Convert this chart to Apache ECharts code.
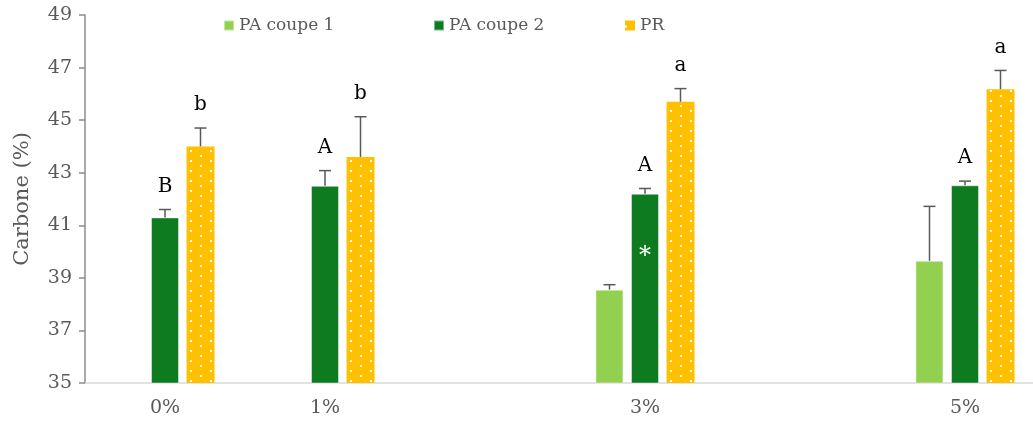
<!DOCTYPE html>
<html>
<head>
<meta charset="utf-8">
<script src="https://cdn.jsdelivr.net/npm/echarts@6/dist/echarts.min.js"></script>
<style>
  html, body { margin: 0; padding: 0; background: #fff; }
  #chart { width: 1033px; height: 425px; }
</style>
</head>
<body>
<div id="chart"></div>
<script>
// categories (2% and 4% are empty slots on the axis)
var categories = ['0%', '1%', '', '3%', '', '5%'];
var seriesNames = ['PA coupe 1', 'PA coupe 2', 'PR'];

var pa1 = [null, null, null, 38.55, null, 39.65];
var pa2 = [41.3, 42.5, null, 42.2, null, 42.52];
var pr  = [44.0, 43.6, null, 45.7, null, 46.18];

// upper error bars
var pa1Err = [null, null, null, 0.19, null, 2.07];
var pa2Err = [0.3, 0.58, null, 0.2, null, 0.16];
var prErr  = [0.7, 1.53, null, 0.5, null, 0.71];

// significance letters
var pa2Letters = ['B', 'A', '', 'A', '', 'A'];
var prLetters  = ['b', 'b', '', 'a', '', 'a'];

var FONT = 'DejaVu Serif';
var GREY = '#595959';
var BAR_W = 28;
var BAR_STEP = 35.5;

var chart = echarts.init(document.getElementById('chart'));

var errData = [];
var errLetters = [];
[[pa1, pa1Err, null], [pa2, pa2Err, pa2Letters], [pr, prErr, prLetters]].forEach(function (s, si) {
    s[0].forEach(function (v, ci) {
        if (v == null) return;
        errData.push([ci, v, s[1][ci], si]);
        errLetters.push(s[2] ? s[2][ci] : '');
    });
});

function renderErr(params, api) {
    var ci = api.value(0), v = api.value(1), e = api.value(2), si = api.value(3);
    var base = api.coord([ci, v]);
    var top = api.coord([ci, v + e]);
    var x = base[0] + (si - 1) * BAR_STEP;
    var children = [
        { type: 'line', shape: { x1: x, y1: base[1], x2: x, y2: top[1] },
          style: { stroke: GREY, lineWidth: 1.5 } },
        { type: 'line', shape: { x1: x - 6, y1: top[1], x2: x + 6, y2: top[1] },
          style: { stroke: GREY, lineWidth: 1.5 } }
    ];
    var letter = errLetters[params.dataIndex];
    if (letter) {
        children.push({ type: 'text', x: x, y: top[1] - 13,
            style: { text: letter, fill: '#000', font: '20px "' + FONT + '"',
                     align: 'center', verticalAlign: 'bottom' } });
    }
    return { type: 'group', children: children };
}

var pa2Data = pa2.map(function (v, i) {
    if (i === 3) {
        return { value: v, label: { show: true, formatter: '*', position: ['50%', '33%'],
            align: 'center', verticalAlign: 'middle', color: '#fff', fontSize: 24,
            fontFamily: FONT } };
    }
    return v;
});

var legendLefts = [218, 428, 620];

var option = {
    animation: false,
    textStyle: { fontFamily: FONT },
    legend: seriesNames.map(function (n, i) {
        return {
            data: [n], left: legendLefts[i], top: 12,
            itemWidth: 10, itemHeight: 10, itemGap: 6,
            icon: 'rect',
            textStyle: { color: GREY, fontSize: 17, fontFamily: FONT }
        };
    }),
    grid: { left: 85, top: 15, right: -12, bottom: 42, containLabel: false, outerBoundsMode: 'none' },
    xAxis: {
        type: 'category',
        data: categories,
        axisLine: { lineStyle: { color: '#D9D9D9', width: 1.5 } },
        axisTick: { show: false },
        axisLabel: { color: GREY, fontSize: 19, fontFamily: FONT, margin: 16 }
    },
    yAxis: {
        type: 'value',
        min: 35, max: 49, interval: 2,
        name: 'Carbone (%)',
        nameLocation: 'middle',
        nameGap: 52,
        nameTextStyle: { color: GREY, fontSize: 21, fontFamily: FONT },
        axisLine: { show: true, lineStyle: { color: '#8C8C8C', width: 1.5 } },
        axisTick: { show: true, length: 6, lineStyle: { color: '#8C8C8C', width: 1.5 } },
        axisLabel: { color: GREY, fontSize: 19, fontFamily: FONT, margin: 13 },
        splitLine: { show: false }
    },
    series: [
        {
            name: 'PA coupe 1', type: 'bar', data: pa1,
            barWidth: BAR_W, barGap: '27%',
            itemStyle: { color: '#92D050', borderColor: 'rgba(255,255,255,0.45)', borderWidth: 1 }
        },
        {
            name: 'PA coupe 2', type: 'bar', data: pa2Data,
            barWidth: BAR_W, barGap: '27%',
            itemStyle: { color: '#0F7B20', borderColor: 'rgba(255,255,255,0.45)', borderWidth: 1 }
        },
        {
            name: 'PR', type: 'bar', data: pr,
            barWidth: BAR_W, barGap: '27%',
            itemStyle: {
                color: '#FFC000',
                decal: {
                    symbol: 'rect', symbolSize: 1, color: '#ffffff',
                    dashArrayX: [[2, 18], [0, 10, 2, 8]],
                    dashArrayY: [2, 2.2],
                    rotation: 0
                }
            }
        },
        {
            type: 'custom', name: 'err',
            renderItem: renderErr,
            data: errData,
            z: 10,
            silent: true
        }
    ]
};

chart.setOption(option);
</script>
</body>
</html>
